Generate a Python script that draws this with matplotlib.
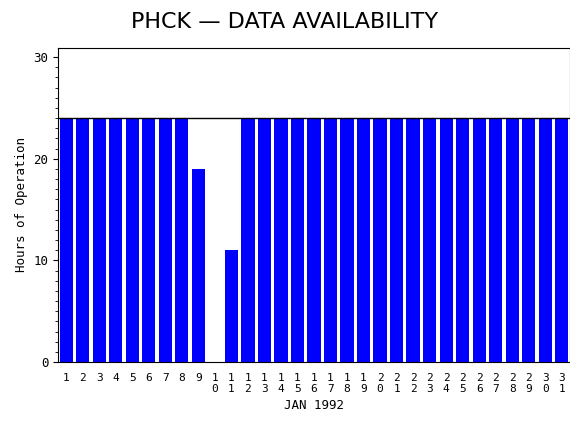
import matplotlib
matplotlib.use("Agg")
import matplotlib.pyplot as plt
from matplotlib.ticker import MultipleLocator

days = list(range(1, 32))
hours = [24]*8 + [19, 0, 11] + [24]*20
labels = ["\n".join(str(d)) for d in days]

fig = plt.figure(figsize=(5.7, 4.3), dpi=100)
ax = fig.add_axes([58/570, 1-362/430, 512/570, 314/430])
ax.bar(days, hours, width=0.8, color="#0000ff", linewidth=0)
ax.axhline(24, color="black", lw=1)
ax.set_xlim(0.5, 31.5)
ax.set_ylim(0, 30.9)
ax.set_xticks(days)
ax.set_xticklabels(labels, fontsize=8, family="DejaVu Sans Mono", linespacing=1.1)
ax.tick_params(axis="x", length=0, pad=8)
ax.yaxis.set_major_locator(MultipleLocator(10))
ax.yaxis.set_minor_locator(MultipleLocator(1))
ax.tick_params(axis="y", labelsize=9, direction="out")
for t in ax.get_yticklabels():
    t.set_family("DejaVu Sans Mono")
ax.set_ylabel("Hours of Operation", fontsize=9, family="DejaVu Sans Mono")
ax.set_xlabel("JAN 1992", fontsize=9, family="DejaVu Sans Mono")
fig.text(0.5, 0.95, "PHCK \u2014 DATA AVAILABILITY", ha="center", va="center", fontsize=16)
fig.savefig("out.png", dpi=100)
